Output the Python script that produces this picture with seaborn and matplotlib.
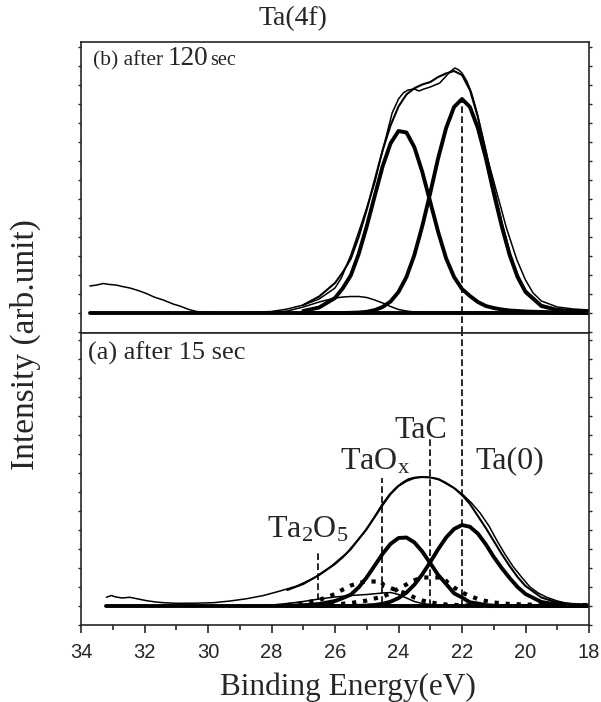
import matplotlib
matplotlib.use("Agg")
import matplotlib.pyplot as plt
from matplotlib.ticker import MultipleLocator
import seaborn as sns

# ---- data (intensity in arbitrary units) ----
# (b) after 120 sec
top_env_x = [33.72, 33.5, 33.3, 33.1, 32.9, 32.7, 32.46, 32.2, 31.94, 31.7,
             31.41, 31.1, 30.89, 30.6, 30.36, 30.0, 29.5, 29.0, 28.5, 28.0,
             27.5, 27.0, 26.5, 26.0, 25.8, 25.5, 25.2, 25.0, 24.75, 24.58,
             24.4, 24.2, 24.0, 23.85, 23.7, 23.5, 23.35, 23.2, 23.0, 22.85,
             22.7, 22.5, 22.35, 22.22, 22.1, 22.0, 21.85, 21.7, 21.55, 21.43,
             21.2, 20.9, 20.6, 20.27, 20.0, 19.76, 19.5, 19.0, 18.5, 18.0]
top_env_y = [27, 28, 29.5, 28.5, 28, 26.5, 25, 22.5, 19.5, 16,
             13, 9, 7, 3.5, 1.5, 0.5, 0, 0.3, 0.8, 1.5,
             4, 8, 14, 25, 35, 58, 86, 105, 130, 153,
             175, 200, 214, 220, 223, 224, 222, 224, 226, 228,
             230, 237, 242, 245, 243, 240, 232, 220, 203, 186,
             155, 120, 85, 53, 33, 20, 12, 6, 4, 3]

top_fit_x = [27.0, 26.5, 26.0, 25.75, 25.5, 25.25, 25.0, 24.75, 24.5, 24.25,
             24.0, 23.75, 23.5, 23.25, 23.0, 22.75, 22.5, 22.25, 22.0, 21.75,
             21.5, 21.25, 21.0, 20.75, 20.5, 20.25, 20.0, 19.5, 19.0, 18.5, 18.0]
top_ta0 = [0, 0, 0, 0, 0.2, 0.5, 1.2, 2.9, 6, 11.5,
           21, 36, 58, 87, 120, 155, 185, 206, 214, 206,
           185, 155, 120, 87, 58, 36, 21, 7, 3, 2, 1.5]
top_taox = [2, 5.5, 15, 25, 37.7, 59.4, 86.7, 117, 146.6, 169.6,
            182, 180.5, 165.8, 141, 111, 81, 54.6, 36, 24, 17,
            11, 7, 5, 3.5, 2.5, 2, 1.5, 1, 0.7, 0.5, 0.5]
top_sum = [8, 16.5, 30, 41, 54.4, 76.4, 103.4, 132.9, 162.6, 187.6,
           206.5, 218.5, 224.8, 228.5, 231, 236, 239.6, 242, 238, 223,
           196, 162, 125, 90.5, 60.5, 38, 22.5, 8, 3.7, 2.5, 2]

top_bump_x = [28.5, 28.0, 27.5, 27.0, 26.5, 26.0, 25.75, 25.5, 25.25, 25.0,
              24.75, 24.5, 24.25, 24.0, 23.75, 23.5, 23.0, 22.5, 22.0, 21.0,
              20.0, 19.0, 18.0]
top_bump_y = [0, 0.5, 2, 6, 11, 15, 16, 16.5, 16.5, 15.5,
              13, 10, 6.5, 3.5, 2, 1, 0.8, 0.8, 0.8, 0.8,
              0.8, 0.8, 0.8]

# (a) after 15 sec
bot_env_x = [33.2, 33.05, 32.9, 32.7, 32.46, 32.2, 31.93, 31.65, 31.4, 31.1,
             30.88, 30.4, 29.83, 29.3, 28.78, 28.25, 27.73, 27.2, 26.68, 26.15,
             25.63, 25.1, 24.8, 24.53, 24.3, 24.06, 23.85, 23.69, 23.5, 23.32,
             23.1, 22.9, 22.7, 22.48, 22.2, 21.96, 21.7, 21.43, 21.15, 20.91,
             20.65, 20.38, 20.1, 19.86, 19.6, 19.33, 19.0, 18.7, 18.35, 18.0]
bot_env_y = [8.7, 10.5, 9, 8, 8.7, 7, 5.3, 4, 3.3, 2.8,
             2.7, 2.8, 3.3, 5, 7.3, 10.5, 15, 20, 27.7, 39,
             53, 73, 87, 101, 111, 119, 124, 127, 128.5, 129,
             129, 128, 126, 122, 117, 111, 103, 93, 80, 66,
             52, 39, 28, 19, 13, 8.7, 5, 2.7, 1.5, 1]

bot_fit_x = [27.5, 27.0, 26.5, 26.0, 25.75, 25.5, 25.25, 25.0, 24.75, 24.5,
             24.25, 24.0, 23.75, 23.5, 23.25, 23.0, 22.75, 22.5, 22.25, 22.0,
             21.75, 21.5, 21.25, 21.0, 20.75, 20.5, 20.25, 20.0, 19.5, 19.0,
             18.5, 18.0]
bot_ta0 = [0, 0, 0, 0, 0, 0, 0.2, 0.5, 1, 2.2,
           4.3, 7.9, 13.4, 21.3, 31.7, 43.9, 56.8, 68.5, 77, 81,
           79.2, 72.4, 61.7, 49.1, 38, 28, 19, 12, 4, 1.5,
           0.7, 0.5]
bot_taox = [0.3, 0.8, 2, 5, 8, 11.4, 18.8, 28.7, 40.4, 52.2,
            62.1, 68, 68.5, 63.6, 54.4, 42.8, 31, 22, 12.7, 8.5,
            3.7, 2.5, 0.8, 0.3, 0, 0, 0, 0, 0, 0,
            0, 0]
bot_sum = [16, 22, 31, 42, 49, 57, 67, 77, 89, 101,
           112, 120, 125, 128, 129, 128.5, 127, 123, 118, 111,
           102, 90, 78, 65, 52, 40, 29, 20, 8.5, 3.5,
           2, 1]

bot_taox_dot_x = [27.5, 27.0, 26.5, 26.0, 25.75, 25.5, 25.25, 25.05, 24.8, 24.55,
                  24.45, 24.25, 24.0, 23.75, 23.5, 23.25, 23.0, 22.5, 22.0, 21.5, 21.0]
bot_taox_dot_y = [1, 3, 6, 12, 16.5, 20.5, 23, 24.5, 24.5, 24.5,
                  20, 18, 15, 12.5, 8.5, 5.5, 3.5, 1.5, 0.7, 0.3, 0]
bot_tac_x = [26.5, 26.0, 25.5, 25.0, 24.5, 24.25, 24.0, 23.75, 23.6, 23.4,
             23.2, 22.9, 22.6, 22.45, 22.25, 22.0, 21.75, 21.5, 21.25, 21.0,
             20.5, 20.0, 19.5, 19.0, 18.5, 18.0]
bot_tac_y = [0.5, 1.5, 3, 5.5, 9.5, 12.5, 17.5, 21.5, 24.5, 27,
             28.5, 28.5, 28.5, 23.5, 18.5, 13.5, 10, 7, 5, 3.5,
             2, 1.5, 1, 1, 1, 1]
bot_ta2o5_x = [28.5, 28.0, 27.5, 27.0, 26.5, 26.0, 25.5, 25.0, 24.5, 24.25,
               24.0, 23.75, 23.5, 23.25, 23.0, 22.5, 22.0, 21.0, 20.0, 19.0, 18.0]
bot_ta2o5_y = [0, 1, 2.5, 4.5, 7, 9, 10.5, 11.5, 13, 13.5,
               11.5, 8, 4.5, 2.5, 1.5, 0.5, 0.3, 0.3, 0.3, 0.3, 0.3]

base_top_x = [33.72, 18.0]
base_bot_x = [33.2, 18.0]
base_y = [0, 0]

peak_names = ["Ta$_\\mathrm{2}$O$_\\mathrm{5}$", "TaO$_\\mathrm{x}$", "TaC", "Ta(0)"]
peak_energy = [26.52, 24.53, 23.0, 22.0]

# ---- style ----
sns.set_style("ticks")
plt.rcParams['font.family'] = ['Liberation Serif', 'DejaVu Serif']
plt.rcParams['mathtext.fontset'] = 'custom'
plt.rcParams['mathtext.rm'] = 'Liberation Serif'
plt.rcParams['mathtext.it'] = 'Liberation Serif:italic'
plt.rcParams['axes.linewidth'] = 1.2

fig = plt.figure(figsize=(6.01, 7.02), dpi=100)
W, H = 601, 702
ax_top = fig.add_axes([81 / W, 1 - 333 / H, 508 / W, 291 / H])
ax_bot = fig.add_axes([81 / W, 1 - 625 / H, 508 / W, 292 / H])

THICK = 2.8
MED = 1.5
THIN = 1.1


def line(ax, x, y, lw, ls='-'):
    sns.lineplot(x=x, y=y, ax=ax, color='black', lw=lw, linestyle=ls,
                 estimator=None, sort=False, legend=False)


# top panel
line(ax_top, base_top_x, base_y, THICK)
line(ax_top, top_bump_x, top_bump_y, THIN)
line(ax_top, top_fit_x, top_ta0, THICK)
line(ax_top, top_fit_x, top_taox, THICK)
line(ax_top, top_fit_x, top_sum, MED)
line(ax_top, top_env_x, top_env_y, THIN)

# bottom panel
line(ax_bot, base_bot_x, base_y, THICK)
line(ax_bot, bot_ta2o5_x, bot_ta2o5_y, THIN)
line(ax_bot, bot_taox_dot_x, bot_taox_dot_y, 3.0, ':')
line(ax_bot, bot_tac_x, bot_tac_y, 3.0, ':')
line(ax_bot, bot_fit_x, bot_ta0, THICK)
line(ax_bot, bot_fit_x, bot_taox, THICK)
line(ax_bot, bot_fit_x, bot_sum, MED)
line(ax_bot, bot_env_x, bot_env_y, THIN)

# dashed peak markers
dash = dict(color='black', lw=1.2, linestyle=(0, (4, 2)))
ax_top.plot([peak_energy[3]] * 2, [-20, 214], **dash)
tops = [56, 128, 168, 273]
bottoms = [6, 3, 0, 0]
for e, t, b in zip(peak_energy, tops, bottoms):
    ax_bot.plot([e, e], [b, t], **dash)

# peak labels
lab_pos = [(28.14, 69), (25.84, 137), (24.14, 168), (21.59, 138)]
for name, (lx, ly) in zip(peak_names, lab_pos):
    ax_bot.text(lx, ly, name, fontsize=23, ha='left', va='baseline')

ax_bot.text(33.78, 246, "(a) after 15 sec", fontsize=19, ha='left', va='baseline')
ax_top.text(33.62, 248, "(b) after", fontsize=15.5, ha='left', va='baseline')
ax_top.text(31.26, 248, "120", fontsize=19.5, ha='left', va='baseline')
ax_top.text(29.92, 248, "sec", fontsize=14.5, ha='left', va='baseline')

# axes
for ax in (ax_top, ax_bot):
    ax.set_xlim(34, 18)
    ax.set_xlabel("")
    ax.set_ylabel("")
    ax.yaxis.set_major_locator(MultipleLocator(19))
    ax.tick_params(axis='y', which='both', direction='out', left=True, right=True,
                   labelleft=False, length=2.5, width=1)
    for s in ax.spines.values():
        s.set_visible(True)
        s.set_linewidth(1.2)

ax_top.set_ylim(-20, 271)
ax_bot.set_ylim(-19, 273)
ax_top.tick_params(axis='x', which='both', bottom=False, top=False, labelbottom=False)

ax_bot.set_xticks([34, 32, 30, 28, 26, 24, 22, 20, 18])
ax_bot.xaxis.set_minor_locator(MultipleLocator(1))
ax_bot.tick_params(axis='x', which='major', direction='out', length=6, width=1.2,
                   pad=7, labelsize=14.5)
ax_bot.tick_params(axis='x', which='minor', direction='out', length=3.5, width=1.2)
ax_bot.tick_params(axis='x', which='both', top=False)
for lab in ax_bot.get_xticklabels():
    lab.set_fontfamily('Liberation Sans')

fig.text(293 / W, 1 - 25 / H, "Ta(4f)", fontsize=20, ha='center', va='baseline')
fig.text(348 / W, 1 - 695 / H, "Binding Energy(eV)", fontsize=22.5,
         ha='center', va='baseline')
fig.text(25 / W, 1 - 345 / H, "Intensity (arb.unit)", fontsize=24,
         rotation=90, ha='center', va='center')

fig.savefig("out.png", dpi=100)
plt.close(fig)
